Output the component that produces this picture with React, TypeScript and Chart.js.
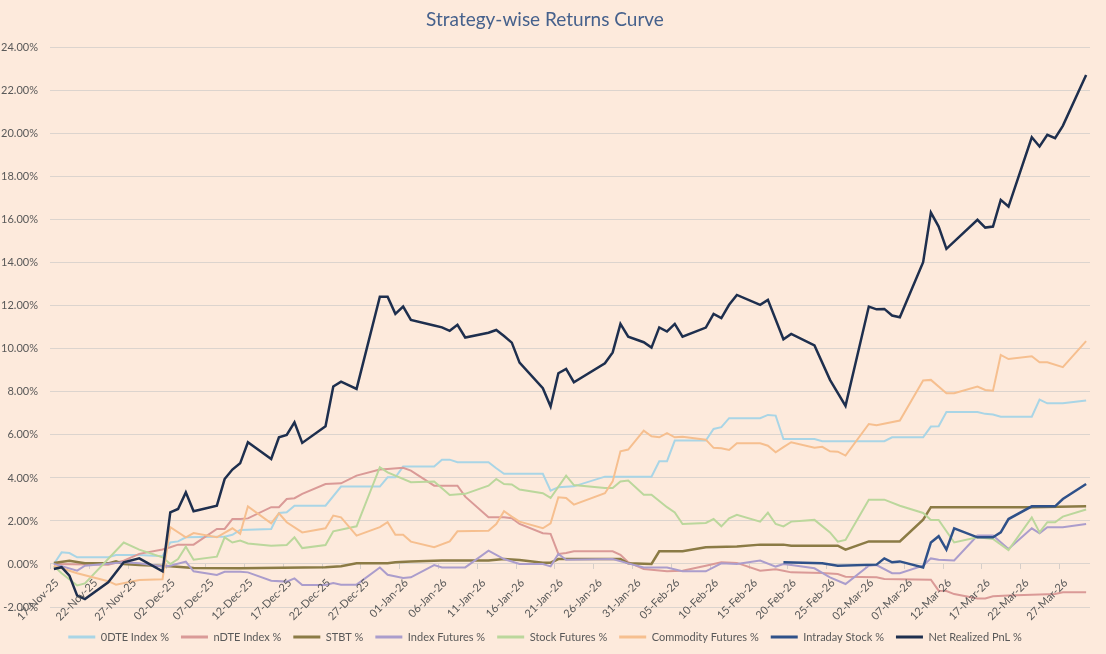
import React, { useRef, useEffect } from 'react';
import Chart from 'chart.js/auto';

// day offsets counted from 17-Nov-25, values in %
const START = Date.UTC(2025, 10, 17);
const MONTHS = ['Jan', 'Feb', 'Mar', 'Apr', 'May', 'Jun', 'Jul', 'Aug', 'Sep', 'Oct', 'Nov', 'Dec'];
const AXIS_DAYS = 134;
const yTicks = { min: -2, max: 24, step: 2 };

const seriesNames = [
  '0DTE Index %',
  'nDTE Index %',
  'STBT %',
  'Index Futures %',
  'Stock Futures %',
  'Commodity Futures %',
  'Intraday Stock %',
  'Net Realized PnL %',
];

const odteIndex: [number, number][] = [
  [0, 0], [1, 0.54], [2, 0.51], [3, 0.31], [7, 0.31], [8, 0.42], [11, 0.42], [14, 0.36], [15, 1.0], [16, 1.05],
  [17, 1.24], [21, 1.27], [22, 1.27], [23, 1.36], [24, 1.58], [28, 1.63], [29, 2.37], [30, 2.4], [31, 2.71], [35, 2.71],
  [37, 3.6], [42, 3.6], [43, 4.03], [44, 4.03], [45, 4.53], [49, 4.53], [50, 4.85], [51, 4.85], [52, 4.73], [56, 4.73],
  [57, 4.45], [58, 4.19], [63, 4.19], [64, 3.41], [65, 3.57], [67, 3.61], [71, 4.06], [77, 4.06], [78, 4.78], [79, 4.78],
  [80, 5.74], [84, 5.74], [85, 6.28], [86, 6.36], [87, 6.78], [91, 6.78], [92, 6.93], [93, 6.9], [94, 5.81], [98, 5.81],
  [99, 5.71], [107, 5.71], [108, 5.89], [112, 5.89], [113, 6.39], [114, 6.4], [115, 7.07], [119, 7.07], [120, 6.98],
  [121, 6.95], [122, 6.85], [126, 6.85], [127, 7.64], [128, 7.47], [130, 7.47], [133, 7.6],
];

const ndteIndex: [number, number][] = [
  [0, 0], [7, -0.03], [9, 0.15], [11, 0.47], [14, 0.67], [15, 0.78], [16, 0.9], [18, 0.9], [21, 1.63], [22, 1.63],
  [23, 2.09], [24, 2.09], [25, 2.12], [28, 2.64], [29, 2.64], [30, 3.02], [31, 3.06], [32, 3.26], [35, 3.72], [37, 3.75],
  [39, 4.11], [42, 4.39], [43, 4.42], [45, 4.47], [46, 4.34], [49, 3.64], [52, 3.64], [53, 3.13], [56, 2.17], [58, 2.17],
  [59, 2.13], [60, 1.86], [63, 1.43], [64, 1.4], [65, 0.47], [66, 0.51], [67, 0.59], [72, 0.59], [73, 0.43], [74, 0.08],
  [76, -0.23], [79, -0.34], [81, -0.31], [84, -0.08], [86, 0.08], [88, 0.05], [91, -0.31], [93, -0.25], [94, -0.31],
  [95, -0.39], [99, -0.42], [101, -0.47], [102, -0.59], [106, -0.62], [107, -0.7], [113, -0.73], [114, -1.24],
  [115, -1.26], [116, -1.4], [119, -1.6], [120, -1.6], [121, -1.5], [123, -1.46], [129, -1.4], [130, -1.32], [133, -1.32],
];

const stbt: [number, number][] = [
  [0, 0.05], [2, 0.15], [4, 0.03], [7, 0.03], [8, 0.12], [9, 0.0], [11, -0.05], [15, -0.1], [18, -0.19], [24, -0.2],
  [35, -0.15], [37, -0.1], [39, 0.03], [43, 0.03], [44, 0.08], [46, 0.11], [50, 0.16], [56, 0.16], [58, 0.23], [60, 0.19],
  [63, 0.06], [64, 0.06], [65, 0.23], [73, 0.23], [74, 0.03], [77, 0.0], [78, 0.59], [81, 0.59], [84, 0.78], [88, 0.81],
  [91, 0.9], [94, 0.9], [95, 0.85], [101, 0.85], [102, 0.67], [105, 1.05], [109, 1.05], [112, 2.06], [113, 2.64],
  [126, 2.64], [133, 2.68],
];

const indexFutures: [number, number][] = [
  [0, 0], [3, -0.31], [4, -0.08], [9, 0.08], [11, 0.03], [14, -0.12], [15, -0.08], [17, 0.11], [18, -0.34], [21, -0.51],
  [22, -0.36], [24, -0.36], [25, -0.39], [28, -0.78], [30, -0.82], [31, -0.67], [32, -0.98], [35, -0.98], [36, -0.88],
  [37, -0.96], [39, -0.96], [42, -0.16], [43, -0.5], [45, -0.65], [46, -0.62], [49, -0.05], [50, -0.16], [53, -0.16],
  [56, 0.62], [58, 0.23], [60, 0.0], [63, 0.0], [64, -0.11], [65, 0.47], [66, 0.2], [72, 0.23], [74, 0.03], [76, -0.16],
  [79, -0.16], [81, -0.34], [84, -0.34], [86, 0.03], [88, 0.0], [91, 0.16], [93, -0.12], [94, 0.0], [95, -0.05],
  [98, -0.2], [100, -0.62], [102, -0.93], [105, -0.08], [106, -0.05], [108, -0.43], [109, -0.43], [112, -0.08],
  [113, 0.26], [114, 0.2], [116, 0.16], [119, 1.32], [121, 1.32], [123, 0.7], [126, 1.66], [127, 1.43], [128, 1.71],
  [130, 1.71], [133, 1.86],
];

const stockFutures: [number, number][] = [
  [0, -0.1], [1, -0.43], [3, -1.0], [4, -0.9], [9, 1.0], [11, 0.67], [14, 0.31], [15, 0.0], [16, 0.23], [17, 0.8],
  [18, 0.2], [21, 0.34], [22, 1.24], [23, 1.0], [24, 1.09], [25, 0.95], [28, 0.85], [30, 0.88], [31, 1.24], [32, 0.74],
  [35, 0.88], [36, 1.52], [39, 1.75], [42, 4.5], [43, 4.26], [46, 3.8], [49, 3.84], [51, 3.21], [53, 3.26], [56, 3.64],
  [57, 3.95], [58, 3.72], [59, 3.7], [60, 3.46], [63, 3.29], [64, 3.07], [66, 4.11], [67, 3.67], [71, 3.53], [72, 3.53],
  [73, 3.84], [74, 3.88], [76, 3.22], [77, 3.22], [79, 2.64], [80, 2.4], [81, 1.86], [84, 1.91], [85, 2.09], [86, 1.75],
  [87, 2.12], [88, 2.29], [91, 1.97], [92, 2.39], [93, 1.86], [94, 1.75], [95, 1.97], [98, 2.05], [100, 1.47],
  [101, 1.04], [102, 1.12], [105, 2.99], [107, 2.99], [109, 2.71], [112, 2.37], [113, 2.05], [114, 2.05], [116, 1.0],
  [119, 1.24], [121, 1.16], [123, 0.65], [126, 2.17], [127, 1.47], [128, 1.94], [129, 1.94], [130, 2.2], [133, 2.53],
];

const commodityFutures: [number, number][] = [
  [0, -0.08], [3, -0.43], [7, -0.8], [8, -0.96], [11, -0.74], [14, -0.71], [15, 1.71], [17, 1.24], [18, 1.44],
  [21, 1.24], [23, 1.66], [24, 1.4], [25, 2.68], [28, 1.89], [29, 2.36], [30, 1.94], [32, 1.47], [35, 1.66], [36, 2.25],
  [37, 2.17], [39, 1.32], [42, 1.71], [43, 1.94], [44, 1.36], [45, 1.36], [46, 1.04], [49, 0.78], [51, 1.05], [52, 1.52],
  [56, 1.55], [57, 1.86], [58, 2.45], [59, 2.2], [60, 1.97], [63, 1.66], [64, 1.89], [65, 3.1], [66, 3.07], [67, 2.76],
  [71, 3.29], [72, 3.84], [73, 5.24], [74, 5.32], [76, 6.2], [77, 5.94], [78, 5.89], [79, 6.08], [80, 5.89], [81, 5.92],
  [84, 5.78], [85, 5.4], [86, 5.38], [87, 5.3], [88, 5.61], [91, 5.61], [92, 5.5], [93, 5.19], [94, 5.43], [95, 5.66],
  [98, 5.4], [99, 5.45], [100, 5.24], [101, 5.22], [102, 5.04], [105, 6.51], [106, 6.45], [109, 6.67], [112, 8.53],
  [113, 8.56], [115, 7.94], [116, 7.94], [119, 8.25], [120, 8.09], [121, 8.06], [122, 9.72], [123, 9.53], [126, 9.66],
  [127, 9.38], [128, 9.38], [130, 9.15], [133, 10.36],
];

const intradayStock: [number, number][] = [
  [94, 0.08], [99, 0.03], [101, -0.08], [106, -0.03], [107, 0.26], [108, 0.08], [109, 0.12], [112, -0.16], [113, 1.0],
  [114, 1.29], [115, 0.67], [116, 1.66], [119, 1.24], [121, 1.24], [122, 1.47], [123, 2.09], [126, 2.68], [129, 2.68],
  [130, 3.02], [133, 3.72],
];

const netRealizedPnl: [number, number][] = [
  [0, -0.23], [1, -0.15], [2, -0.54], [3, -1.47], [4, -1.63], [7, -0.85], [9, 0.08], [11, 0.26], [14, -0.34], [15, 2.4],
  [16, 2.56], [17, 3.33], [18, 2.45], [21, 2.71], [22, 3.95], [23, 4.39], [24, 4.68], [25, 5.66], [28, 4.88], [29, 5.89],
  [30, 6.0], [31, 6.59], [32, 5.63], [35, 6.4], [36, 8.25], [37, 8.48], [39, 8.14], [42, 12.43], [43, 12.43], [44, 11.63],
  [45, 11.97], [46, 11.35], [49, 11.09], [50, 11.0], [51, 10.84], [52, 11.12], [53, 10.53], [56, 10.75], [57, 10.88],
  [58, 10.6], [59, 10.29], [60, 9.36], [63, 8.17], [64, 7.32], [65, 8.87], [66, 9.07], [67, 8.45], [71, 9.33], [72, 9.84],
  [73, 11.16], [74, 10.57], [76, 10.31], [77, 10.06], [78, 11.0], [79, 10.81], [80, 11.16], [81, 10.57], [84, 10.99],
  [85, 11.63], [86, 11.43], [87, 12.05], [88, 12.51], [91, 12.05], [92, 12.28], [94, 10.45], [95, 10.7], [98, 10.16],
  [100, 8.56], [102, 7.35], [105, 11.97], [106, 11.84], [107, 11.86], [108, 11.55], [109, 11.47], [112, 14.03],
  [113, 16.34], [114, 15.69], [115, 14.65], [119, 16.0], [120, 15.64], [121, 15.69], [122, 16.93], [123, 16.62],
  [126, 19.84], [127, 19.41], [128, 19.95], [129, 19.8], [130, 20.37], [133, 22.74],
];

const seriesData = [odteIndex, ndteIndex, stbt, indexFutures, stockFutures, commodityFutures, intradayStock, netRealizedPnl];
const seriesColors = ['#a9d5e6', '#da9a97', '#8b7b45', '#ab9dcc', '#bbd79c', '#f6bf8f', '#2f5189', '#1e2f4e'];
const seriesWidths = [2, 2, 2.5, 2, 2, 2, 2.5, 2.5];

const FONT = 'Lato, "Open Sans", sans-serif';
const TEXT = '#595959';

const dayLabel = (d: number) => {
  const dt = new Date(START + d * 86400000);
  const dd = String(dt.getUTCDate()).padStart(2, '0');
  return `${dd}-${MONTHS[dt.getUTCMonth()]}-${String(dt.getUTCFullYear()).slice(2)}`;
};

// Excel-style date labels: rotated, tucked up against the bottom of the plot,
// plus the small tick marks where the date axis crosses 0
const dateAxis = {
  id: 'dateAxis',
  beforeDatasetsDraw(chart: any) {
    const { ctx, scales } = chart;
    const y0 = scales.y.getPixelForValue(0);
    ctx.save();
    ctx.strokeStyle = '#d6cec8';
    ctx.lineWidth = 1;
    scales.x.ticks.forEach((t: any) => {
      const px = Math.round(scales.x.getPixelForValue(t.value)) + 0.5;
      ctx.beginPath();
      ctx.moveTo(px, y0);
      ctx.lineTo(px, y0 + 5);
      ctx.stroke();
    });
    ctx.restore();
  },
  afterDraw(chart: any) {
    const { ctx, scales, chartArea } = chart;
    ctx.save();
    ctx.fillStyle = TEXT;
    ctx.font = `11px ${FONT}`;
    ctx.textAlign = 'right';
    ctx.textBaseline = 'top';
    scales.x.ticks.forEach((t: any) => {
      const px = scales.x.getPixelForValue(t.value);
      ctx.save();
      ctx.translate(px + 3, chartArea.bottom - 30);
      ctx.rotate(-Math.PI / 4);
      ctx.fillText(dayLabel(t.value), 0, 0);
      ctx.restore();
    });
    ctx.restore();
  },
};

const App: React.FC = () => {
  const canvasRef = useRef<HTMLCanvasElement | null>(null);
  const chartRef = useRef<Chart | null>(null);

  useEffect(() => {
    const ctx = canvasRef.current?.getContext('2d');
    if (!ctx) return;
    if (chartRef.current) chartRef.current.destroy();

    chartRef.current = new Chart(ctx, {
      type: 'line',
      data: {
        datasets: seriesNames.map((name, i) => ({
          label: name,
          // Excel date axis puts each day's point in the middle of its slot
          data: seriesData[i].map(([d, v]) => ({ x: d + 0.5, y: v })),
          borderColor: seriesColors[i],
          backgroundColor: seriesColors[i],
          borderWidth: seriesWidths[i],
          pointRadius: 0,
          tension: 0,
          order: seriesNames.length - i,
        })),
      },
      options: {
        responsive: true,
        maintainAspectRatio: false,
        animation: false,
        layout: { padding: { left: 0, right: 16, top: 0, bottom: 1.5 } },
        plugins: {
          title: {
            display: true,
            text: 'Strategy-wise Returns Curve',
            color: '#46618c',
            font: { family: FONT, size: 19, weight: 'normal' },
            padding: { top: 8, bottom: 17 },
          },
          legend: {
            position: 'bottom',
            labels: {
              color: TEXT,
              font: { family: FONT, size: 11 },
              boxWidth: 27,
              boxHeight: 3,
              padding: 12,
              sort: (a: any, b: any) => a.datasetIndex - b.datasetIndex,
              generateLabels: (chart: any) =>
                Chart.defaults.plugins.legend.labels
                  .generateLabels(chart)
                  .map((l: any) => ({ ...l, lineWidth: 0, fillStyle: l.strokeStyle })),
            },
          },
          tooltip: { enabled: false },
        },
        scales: {
          x: {
            type: 'linear',
            min: 0,
            max: AXIS_DAYS,
            grid: { display: false, drawTicks: false },
            border: { display: false },
            afterFit: (scale: any) => {
              scale.height = 12.5;
            },
            ticks: {
              display: false,
              stepSize: 5,
              includeBounds: false,
              autoSkip: false,
            },
          },
          y: {
            min: yTicks.min,
            max: yTicks.max,
            grid: { color: '#dcd4ce', drawTicks: false },
            border: { display: false },
            afterFit: (scale: any) => {
              scale.width = 50;
            },
            ticks: {
              stepSize: yTicks.step,
              padding: 12,
              color: TEXT,
              font: { family: FONT, size: 11 },
              callback: (v: any) => `${Number(v).toFixed(2)}%`,
            },
          },
        },
      },
      plugins: [dateAxis],
    } as any);

    return () => {
      if (chartRef.current) {
        chartRef.current.destroy();
        chartRef.current = null;
      }
    };
  }, []);

  return (
    <div style={{ position: 'absolute', left: 0, top: 0, width: 1106, height: 654, background: '#fdeadc' }}>
      <canvas ref={canvasRef} />
    </div>
  );
};

export default App;
